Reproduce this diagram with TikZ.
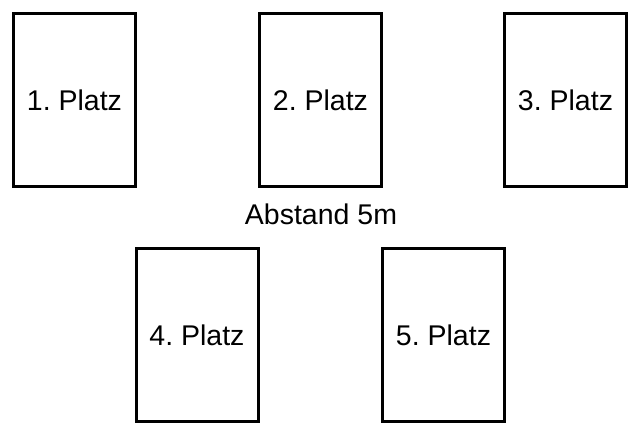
\documentclass[tikz,border=0pt]{standalone}
\usepackage{fontspec}
\setmainfont{Liberation Sans}
\frenchspacing
\begin{document}
\begin{tikzpicture}[x=1pt,y=-1pt,
  platz/.style={draw=black,line width=3pt,fill=white,minimum width=122pt,minimum height=173pt,inner sep=0pt,font=\fontsize{28.5}{32}\selectfont},
  lbl/.style={font=\fontsize{28.5}{32}\selectfont,inner sep=0pt}]
\useasboundingbox (0,0) rectangle (629,428);
\node[platz] (p1) at (74.5,100) {1. Platz};
\node[platz] (p2) at (320.5,100) {2. Platz};
\node[platz] (p3) at (565.5,100) {3. Platz};
\node[platz] (p4) at (197,335) {4. Platz};
\node[platz] (p5) at (443.5,335) {5. Platz};
\node[lbl] (abst) at (321,214) {Abstand 5m};
\end{tikzpicture}
\end{document}
